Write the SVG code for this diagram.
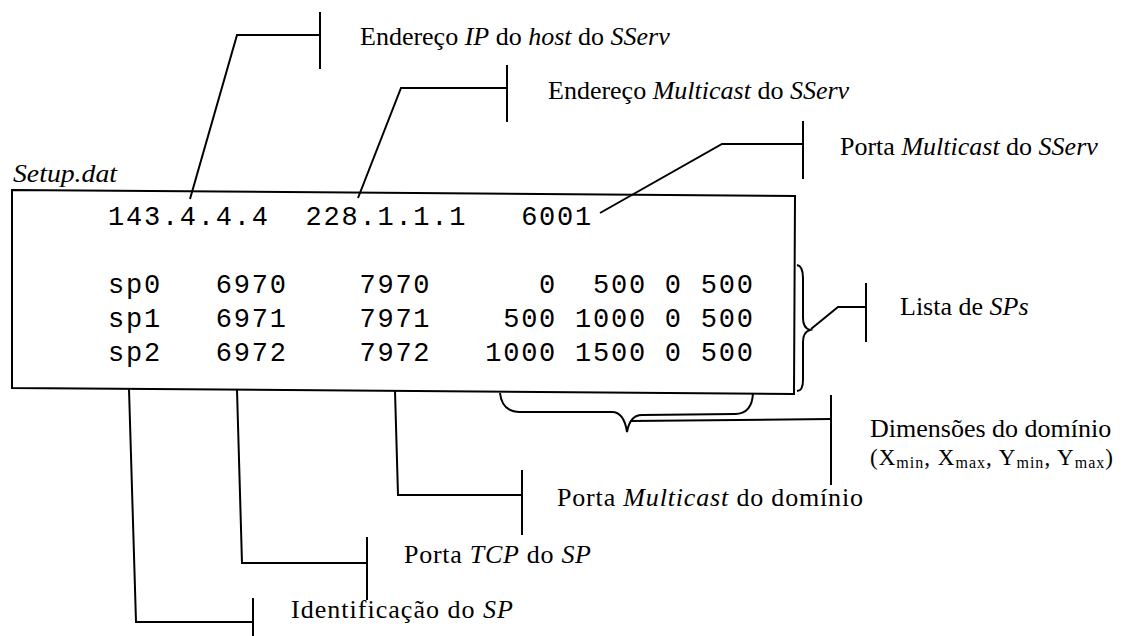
<svg xmlns="http://www.w3.org/2000/svg" width="1125" height="636" viewBox="0 0 1125 636">
<style>
.ln{fill:none;stroke:#000;stroke-width:2;stroke-linejoin:miter}
.lbl{font-family:"Liberation Serif","Times New Roman",serif;font-size:26px;fill:#000}
.it{font-style:italic}
.mono{font-family:"Liberation Mono","Courier New",monospace;font-size:27px;letter-spacing:1.76px;fill:#000;white-space:pre}
.sm{font-size:23px}
.sub{font-size:16px}
</style>
<rect width="1125" height="636" fill="#fff"/>
<g id="setup-file">
<text class="lbl it" x="13" y="182" font-size="23" textLength="104" lengthAdjust="spacingAndGlyphs">Setup.dat</text>
<polygon class="ln" points="12,190 795,196 794,394 12,388"/>
<text class="mono" x="108" y="225" xml:space="preserve">143.4.4.4  228.1.1.1   6001</text>
<text class="mono" x="108" y="293" xml:space="preserve">sp0   6970    7970      0  500 0 500</text>
<text class="mono" x="108" y="327" xml:space="preserve">sp1   6971    7971    500 1000 0 500</text>
<text class="mono" x="108" y="361" xml:space="preserve">sp2   6972    7972   1000 1500 0 500</text>
</g>
<g id="label-ip"><text class="lbl" x="360" y="45">Endereço <tspan class="it">IP</tspan> do <tspan class="it">host</tspan> do <tspan class="it">SServ</tspan></text></g>
<g id="label-mcast-addr"><text class="lbl" x="548" y="99">Endereço <tspan class="it">Multicast</tspan> do <tspan class="it">SServ</tspan></text></g>
<g id="label-mcast-port"><text class="lbl" x="840" y="155">Porta <tspan class="it">Multicast</tspan> do <tspan class="it">SServ</tspan></text></g>
<g id="label-lista"><text class="lbl" x="900" y="315">Lista de <tspan class="it">SPs</tspan></text></g>
<g id="label-dim"><text class="lbl" x="870" y="437">Dimensões do domínio</text>
<text class="lbl sm" x="870" y="465" textLength="243" lengthAdjust="spacing">(X<tspan class="sub" dy="3">min</tspan><tspan dy="-3">, X</tspan><tspan class="sub" dy="3">max</tspan><tspan dy="-3">, Y</tspan><tspan class="sub" dy="3">min</tspan><tspan dy="-3">, Y</tspan><tspan class="sub" dy="3">max</tspan><tspan dy="-3">)</tspan></text></g>
<g id="label-mcast-dom"><text class="lbl" x="557" y="506" textLength="306" lengthAdjust="spacing">Porta <tspan class="it">Multicast</tspan> do domínio</text></g>
<g id="label-tcp"><text class="lbl" x="404" y="563" textLength="187" lengthAdjust="spacing">Porta <tspan class="it">TCP</tspan> do <tspan class="it">SP</tspan></text></g>
<g id="label-id"><text class="lbl" x="291" y="618" textLength="222" lengthAdjust="spacing">Identificação do <tspan class="it">SP</tspan></text></g>
<g id="connectors">
<polyline class="ln" points="190,199 237,35 320,35"/>
<line class="ln" x1="320" y1="12" x2="320" y2="69"/>
<polyline class="ln" points="358,198 401,88 507,88"/>
<line class="ln" x1="507" y1="65" x2="507" y2="122"/>
<polyline class="ln" points="600,213 722,144 803,144"/>
<line class="ln" x1="803" y1="121" x2="803" y2="179"/>
<path class="ln" d="M797,265 Q803,266 803,278 L803,318 Q803,328 810,330 Q803,332 803,342 L803,380 Q803,391 797,391"/>
<polyline class="ln" points="811,329 838,307 866,307"/>
<line class="ln" x1="866" y1="283" x2="866" y2="342"/>
<path class="ln" d="M500,393 Q502,412 520,412 L612,412 Q624,412 627,432 Q630,415 642,415 L735,414 Q752,414 753,393"/>
<polyline class="ln" points="630,421 831,419"/>
<line class="ln" x1="831" y1="395" x2="831" y2="485"/>
<polyline class="ln" points="395,391 398,495 522,495"/>
<line class="ln" x1="522" y1="470" x2="522" y2="535"/>
<polyline class="ln" points="237,390 242,563 367,563"/>
<line class="ln" x1="367" y1="537" x2="367" y2="600"/>
<polyline class="ln" points="129,389 136,622 253,622"/>
<line class="ln" x1="253" y1="598" x2="253" y2="636"/>
</g>
</svg>
